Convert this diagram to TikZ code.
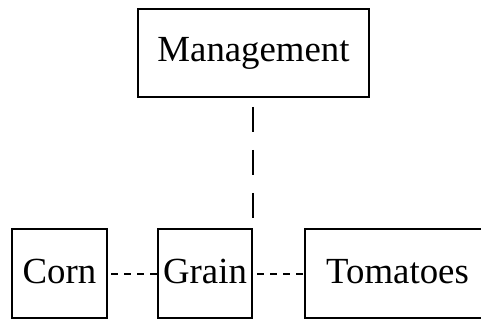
\documentclass[tikz,border=0pt]{standalone}
\usepackage{fontspec}
\setmainfont{Liberation Serif}
\begin{document}
\begin{tikzpicture}[x=1pt,y=-1pt,
  box/.style={draw, line width=2pt, inner sep=0pt, font=\fontsize{36.8}{40}\selectfont},
  lowbox/.style={box, minimum height=89pt, text height=24.4pt, text depth=5.4pt},
  vdash/.style={line width=2pt, dash pattern=on 25pt off 18pt, dash phase=34pt},
  hdash/.style={line width=2pt, dash pattern=on 7pt off 6pt, dash phase=10pt}]
\path[use as bounding box, clip] (0,0) rectangle (481,320);
\node[box, minimum width=231pt, minimum height=88pt, text height=24.4pt, text depth=8pt] (mgmt) at (253.5,53) {Management};
\node[lowbox, minimum width=95pt] (corn) at (59.5,273.5) {Corn};
\node[lowbox, minimum width=94pt] (grain) at (205,273.5) {Grain};
\node[lowbox, minimum width=185pt] (tom) at (397.5,273.5) {Tomatoes};
\coordinate (top) at (mgmt.south -| grain.north east);
\draw[vdash] (top) -- (grain.north east);
\draw[hdash] (corn.east) -- (grain.west);
\draw[hdash, dash phase=9pt] (grain.east) -- (tom.west);
\end{tikzpicture}
\end{document}
